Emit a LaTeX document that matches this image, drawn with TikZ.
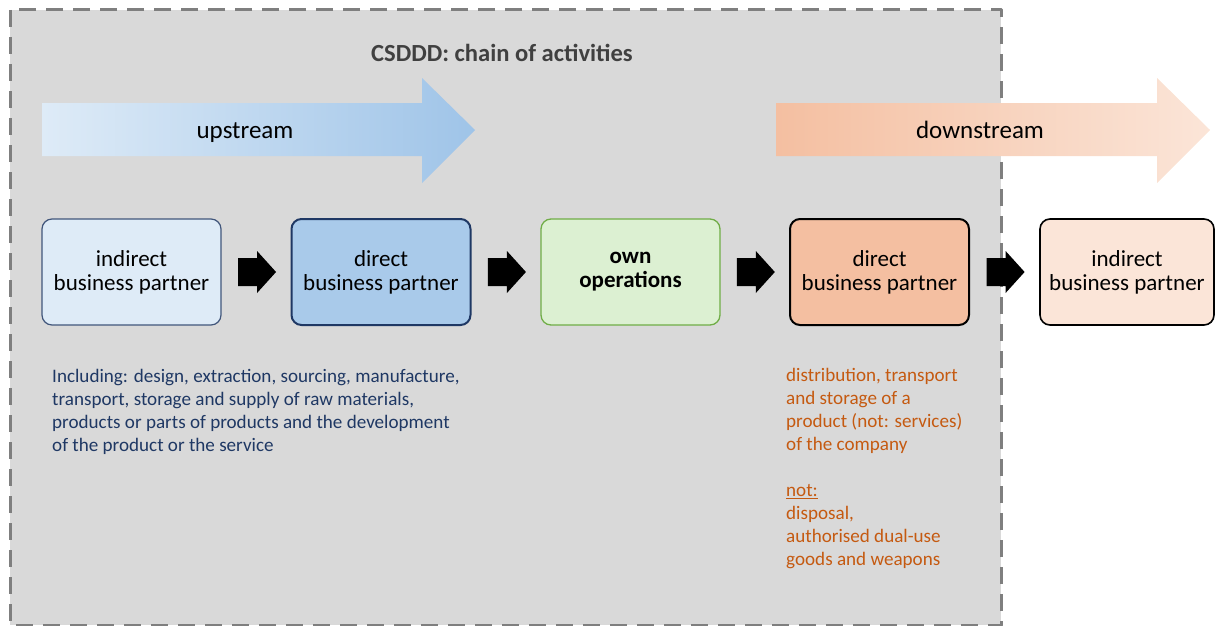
\documentclass[tikz,border=0pt]{standalone}
\usepackage{fontspec}
\setmainfont{Carlito}
\usepackage{xcolor}
\usetikzlibrary{calc}

\definecolor{greybg}{HTML}{D9D9D9}
\definecolor{dashgrey}{HTML}{7F7F7F}
\definecolor{titlegrey}{HTML}{404040}
\definecolor{upleft}{HTML}{DEEBF7}
\definecolor{upright}{HTML}{9FC4E8}
\definecolor{downleft}{HTML}{F4BFA1}
\definecolor{downright}{HTML}{FBE5D8}
\definecolor{ownfill}{HTML}{DCF0D2}
\definecolor{owndraw}{HTML}{70AD47}
\definecolor{navytext}{HTML}{1F3864}
\definecolor{rusttext}{HTML}{C55A11}

\tikzset{
    partner/.style={rounded corners=10pt,minimum width=179pt,minimum height=106pt,align=center,inner sep=0pt,
        font=\fontsize{23}{24}\selectfont},
    streamlabel/.style={anchor=base,font=\fontsize{25}{28}\selectfont,inner sep=0pt},
    listtext/.style={anchor=north west,align=left,inner sep=0pt,font=\fontsize{19.1}{23}\selectfont}
}

% black block arrow half way between two boxes
\newcommand{\chainarrow}[2]{%
    \coordinate (#1-#2) at ($(#1.east)!0.5!(#2.west)$);
    \fill[black] ($(#1-#2)+(-18,-14)$) -- ($(#1-#2)+(1,-14)$) -- ($(#1-#2)+(1,-21)$) -- ($(#1-#2)+(20,0)$)
        -- ($(#1-#2)+(1,21)$) -- ($(#1-#2)+(1,14)$) -- ($(#1-#2)+(-18,14)$) -- cycle;}

\begin{document}
\begin{tikzpicture}[x=1pt,y=-1pt,line join=round]
    \useasboundingbox (0,0) rectangle (1215,626);
    \draw[fill=greybg,draw=dashgrey,line width=3pt,dash pattern=on 17pt off 10pt] (10,10) rectangle (1001,625);
    \node[text=titlegrey,font=\fontsize{24.6}{28}\selectfont\bfseries] (title) at (502,53) {CSDDD: chain of activities};

    \shade[left color=upleft,right color=upright] (42,103) -- (422,103) -- (422,78) -- (475,130)
        -- (422,183) -- (422,156) -- (42,156) -- cycle;
    \node[streamlabel] (up) at (245,138) {upstream};
    \shade[left color=downleft,right color=downright] (776,103) -- (1157,103) -- (1157,78) -- (1210,130)
        -- (1157,183) -- (1157,156) -- (776,156) -- cycle;
    \node[streamlabel] (down) at (980,138) {downstream};

    \node[partner,fill=upleft,draw=navytext!85,line width=1.2pt] (ibpUp) at (131.5,272) {indirect\\business partner};
    \node[partner,fill=upright!90!white,draw=navytext,line width=2pt] (dbpUp) at (381,272) {direct\\business partner};
    \node[partner,fill=ownfill,draw=owndraw,line width=1.3pt] (ownOps) at (630.5,272)
        {\bfseries own\\\bfseries operations};
    \node[partner,fill=downleft,draw=black,line width=2pt] (dbpDown) at (879.5,272) {direct\\business partner};
    \node[partner,fill=downright,draw=black,line width=1.6pt,minimum width=174pt] (ibpDown) at (1127,272)
        {indirect\\business partner};

    \chainarrow{ibpUp}{dbpUp}
    \chainarrow{dbpUp}{ownOps}
    \chainarrow{ownOps}{dbpDown}
    \chainarrow{dbpDown}{ibpDown}

    \node[listtext,text=navytext] (upText) at (52,369)
        {Including: design, extraction, sourcing, manufacture,\\
         transport, storage and supply of raw materials,\\
         products or parts of products and the development\\
         of the product or the service};
    \node[listtext,text=rusttext] (downText) at (786,368)
        {distribution, transport\\
         and storage of a\\
         product (not: services)\\
         of the company\\[23pt]
         \underline{not:}\\
         disposal,\\
         authorised dual-use\\
         goods and weapons};
\end{tikzpicture}
\end{document}
